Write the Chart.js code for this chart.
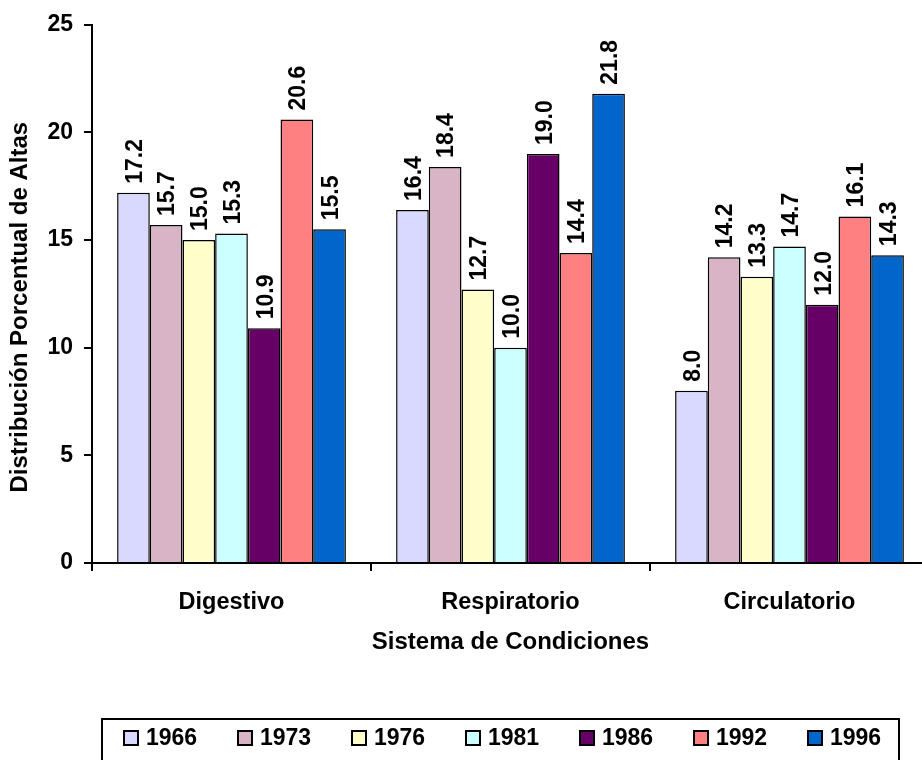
<!DOCTYPE html>
<html>
<head>
<meta charset="utf-8">
<script src="https://cdn.jsdelivr.net/npm/chart.js@4.4.1/dist/chart.umd.min.js"></script>
<style>
  html, body { margin: 0; padding: 0; background: #fff; overflow: hidden; }
  #wrap { width: 932px; height: 780px; }
</style>
</head>
<body>
<div id="wrap"><canvas id="altasChart" width="932" height="780"></canvas></div>
<script>
// Sistemas (categorias) y años
const categorias = ['Digestivo', 'Respiratorio', 'Circulatorio'];
const anos = ['1966', '1973', '1976', '1981', '1986', '1992', '1996'];

// Distribucion porcentual de altas por año
const v1966 = [17.2, 16.4, 8.0];
const v1973 = [15.7, 18.4, 14.2];
const v1976 = [15.0, 12.7, 13.3];
const v1981 = [15.3, 10.0, 14.7];
const v1986 = [10.9, 19.0, 12.0];
const v1992 = [20.6, 14.4, 16.1];
const v1996 = [15.5, 21.8, 14.3];

const yTicks = [0, 5, 10, 15, 20, 25];

const series = [v1966, v1973, v1976, v1981, v1986, v1992, v1996];
const colores = ['#D9D9FF', '#D9B3C6', '#FFFFCC', '#CCFFFF', '#660066', '#FF8080', '#0066CC'];

const fuente = '"Liberation Sans", Arial, sans-serif';

// etiquetas de valor giradas encima de cada barra
const etiquetasPlugin = {
  id: 'etiquetas',
  afterDatasetsDraw(chart) {
    const ctx = chart.ctx;
    ctx.save();
    ctx.fillStyle = '#000';
    ctx.font = 'bold 23px ' + fuente;
    ctx.textAlign = 'left';
    ctx.textBaseline = 'middle';
    chart.data.datasets.forEach((ds, i) => {
      chart.getDatasetMeta(i).data.forEach((bar, j) => {
        ctx.save();
        ctx.translate(bar.x + 2, bar.y - 9);
        ctx.rotate(-Math.PI / 2);
        ctx.fillText(ds.data[j].toFixed(1), 0, 0);
        ctx.restore();
      });
    });
    ctx.restore();
  }
};

// leyenda con recuadro, debajo del titulo del eje x
const leyendaPlugin = {
  id: 'leyendaCaja',
  afterDraw(chart) {
    const ctx = chart.ctx;
    ctx.save();
    ctx.strokeStyle = '#000';
    ctx.lineWidth = 2;
    ctx.strokeRect(102, 719, 797, 44);
    ctx.font = 'bold 23px ' + fuente;
    ctx.textBaseline = 'middle';
    ctx.textAlign = 'left';
    chart.data.datasets.forEach((ds, i) => {
      const x = 124 + i * 114;
      const y = 738;
      ctx.fillStyle = ds.backgroundColor;
      ctx.fillRect(x, y - 7, 14, 14);
      ctx.lineWidth = 2;
      ctx.strokeRect(x, y - 7, 14, 14);
      ctx.fillStyle = '#000';
      ctx.fillText(ds.label, x + 22, y + 1);
    });
    ctx.restore();
  }
};

const ctx = document.getElementById('altasChart').getContext('2d');

new Chart(ctx, {
  type: 'bar',
  data: {
    labels: categorias,
    datasets: anos.map((a, i) => ({
      label: a,
      data: series[i],
      backgroundColor: colores[i],
      borderColor: '#000',
      borderWidth: 1.5,
      categoryPercentage: 0.82,
      barPercentage: 1.0
    }))
  },
  options: {
    responsive: false,
    devicePixelRatio: 1,
    animation: false,
    layout: { padding: { top: 23, right: 3, bottom: 117, left: 0 } },
    plugins: {
      legend: { display: false },
      tooltip: { enabled: false }
    },
    scales: {
      x: {
        afterFit(axis) { axis.height = 100; },
        grid: { display: true, drawOnChartArea: false, drawTicks: true, tickLength: 8, color: '#000', lineWidth: 2, offset: true },
        border: { display: true, color: '#000', width: 2 },
        ticks: { color: '#000', padding: 17, font: { family: fuente, size: 23.5, weight: 'bold' } },
        title: {
          display: true,
          text: 'Sistema de Condiciones',
          color: '#000',
          padding: { top: 0, bottom: 6 },
          font: { family: fuente, size: 24, weight: 'bold' }
        }
      },
      y: {
        min: 0,
        max: 25,
        afterFit(axis) { axis.width = 92; },
        afterBuildTicks(axis) { axis.ticks = yTicks.map(v => ({ value: v })); },
        grid: { display: true, drawOnChartArea: false, drawTicks: true, tickLength: 8, color: '#000', lineWidth: 2 },
        border: { display: true, color: '#000', width: 2 },
        ticks: { color: '#000', padding: 11, font: { family: fuente, size: 23, weight: 'bold' } },
        title: {
          display: true,
          text: 'Distribución Porcentual de Altas    ',
          color: '#000',
          padding: { top: 6, bottom: 0 },
          font: { family: fuente, size: 24, weight: 'bold' }
        }
      }
    }
  },
  plugins: [etiquetasPlugin, leyendaPlugin]
});
</script>
</body>
</html>
